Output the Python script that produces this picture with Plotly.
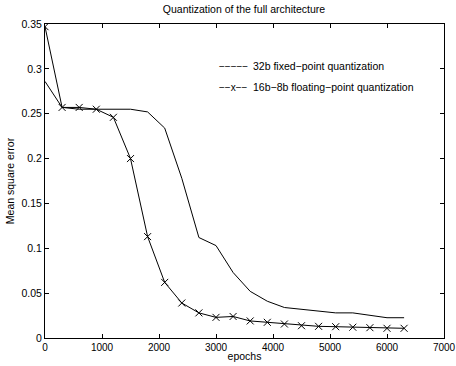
import plotly.graph_objects as go

epochs = [0, 300, 600, 900, 1200, 1500, 1800, 2100, 2400, 2700, 3000, 3300,
          3600, 3900, 4200, 4500, 4800, 5100, 5400, 5700, 6000, 6300]
fixed_32b = [0.286, 0.257, 0.255, 0.255, 0.255, 0.255, 0.252, 0.234, 0.178, 0.112,
             0.103, 0.073, 0.052, 0.041, 0.034, 0.032, 0.030, 0.028, 0.028, 0.025,
             0.0226, 0.0226]
float_16b8b = [0.347, 0.257, 0.257, 0.255, 0.246, 0.200, 0.113, 0.062, 0.039, 0.028,
               0.023, 0.024, 0.019, 0.0175, 0.0156, 0.0137, 0.013, 0.0126, 0.012,
               0.0115, 0.0108, 0.0108]
x_ticks = [0, 1000, 2000, 3000, 4000, 5000, 6000, 7000]
y_ticks = [0, 0.05, 0.1, 0.15, 0.2, 0.25, 0.3, 0.35]
y_tick_labels = ["0", "0.05", "0.1", "0.15", "0.2", "0.25", "0.3", "0.35"]
legend_styles = ["\u2212\u2212\u2212\u2212\u2212", "\u2212\u2212x\u2212\u2212"]
legend_texts = ["32b fixed\u2212point quantization",
                "16b\u22128b floating\u2212point quantization"]

fig = go.Figure()
fig.add_trace(go.Scatter(x=epochs, y=fixed_32b, mode="lines",
                         line=dict(color="black", width=1), showlegend=False))
fig.add_trace(go.Scatter(x=epochs, y=float_16b8b, mode="lines+markers",
                         line=dict(color="black", width=1),
                         marker=dict(symbol="x-thin", size=7,
                                     line=dict(color="black", width=1)),
                         showlegend=False))

for i, (s, t) in enumerate(zip(legend_styles, legend_texts)):
    yy = 0.866 - i * 0.068
    fig.add_annotation(x=0.431, y=yy, xref="paper", yref="paper",
                       text=s, showarrow=False, xanchor="left", yanchor="middle",
                       font=dict(size=10, color="black"))
    fig.add_annotation(x=0.516, y=yy, xref="paper", yref="paper",
                       text=t, showarrow=False, xanchor="left", yanchor="middle",
                       font=dict(size=10.5, color="black"))

axis_common = dict(showline=True, linecolor="black", linewidth=1, mirror="ticks",
                   ticks="inside", ticklen=4, tickcolor="black", showgrid=False,
                   zeroline=False, automargin=False,
                   tickfont=dict(size=10.5, color="black"))

fig.update_layout(
    width=456, height=366,
    margin=dict(l=45, r=12, t=24, b=28),
    paper_bgcolor="white", plot_bgcolor="white",
    font=dict(family="Liberation Sans, Arial, sans-serif", size=10, color="black"),
    title=dict(text="Quantization of the full architecture", x=0.535, xanchor="center",
               y=0.975, yanchor="middle", font=dict(size=10.5), automargin=False),
    xaxis=dict(range=[0, 7000], tickvals=x_ticks, ticklabeloverflow="allow",
               title=dict(text="epochs", standoff=0, font=dict(size=10.5)),
               **axis_common),
    yaxis=dict(range=[0, 0.35], tickvals=y_ticks, ticktext=y_tick_labels,
               title=dict(text="Mean square error", standoff=4, font=dict(size=10.5)),
               **axis_common),
)
fig.update_xaxes(tickfont=dict(size=10))

fig.write_html("out.html")
